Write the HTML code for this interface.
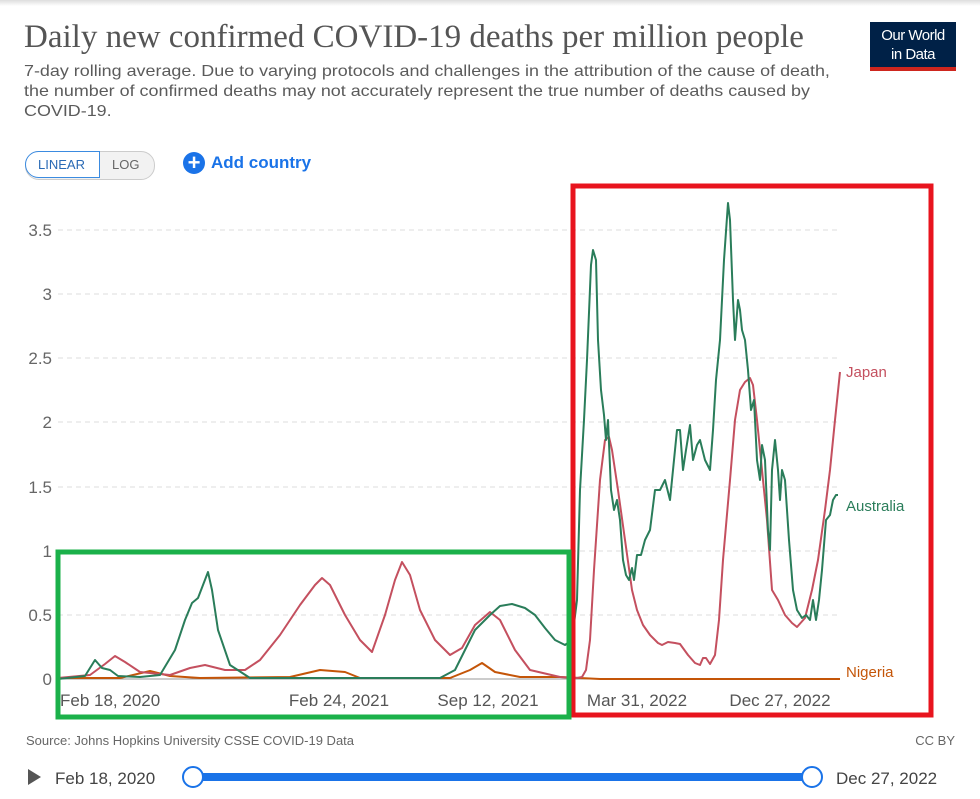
<!DOCTYPE html>
<html><head><meta charset="utf-8"><style>
body{margin:0;width:980px;height:799px;background:#fff;font-family:"Liberation Sans",sans-serif;overflow:hidden;position:relative}
.t{position:absolute;white-space:nowrap}
</style></head><body>
<div style="position:absolute;left:0;top:0;width:980px;height:6px;background:linear-gradient(#ddd,#fff)"></div>
<div class="t" style="left:24px;top:19px;font-family:'Liberation Serif',serif;font-size:33px;color:#555">Daily new confirmed COVID-19 deaths per million people</div>
<div class="t" style="left:24px;top:62px;font-size:16px;color:#5b5b5b;line-height:20px;transform:scaleX(1.12);transform-origin:0 0">7-day rolling average. Due to varying protocols and challenges in the attribution of the cause of death,<br>the number of confirmed deaths may not accurately represent the true number of deaths caused by<br>COVID-19.</div>
<div style="position:absolute;left:870px;top:22px;width:86px;height:49px;background:#002147;color:#fff;font-size:15px;text-align:center;line-height:19px;padding-top:4px;box-sizing:border-box;letter-spacing:-0.5px">Our World<br>in Data</div>
<div style="position:absolute;left:870px;top:67px;width:86px;height:4px;background:#ce261e"></div>
<div style="position:absolute;left:25px;top:151px;width:128px;height:27px;border:1px solid #ccc;border-radius:14px;background:#f2f2f2"></div>
<div style="position:absolute;left:25px;top:151px;width:73px;height:25px;border:1px solid #3b8be0;border-radius:14px 0 0 14px;background:#fff"></div>
<div class="t" style="left:38px;top:157px;font-size:13px;color:#2a6ab5">LINEAR</div>
<div class="t" style="left:112px;top:157px;font-size:13px;color:#666">LOG</div>
<div style="position:absolute;left:183px;top:152px;width:22px;height:22px;border-radius:50%;background:#1a73e8;color:#fff;font-size:22px;line-height:21px;text-align:center;font-weight:bold">+</div>
<div class="t" style="left:211px;top:153px;font-size:17px;color:#1a73e8;font-weight:bold">Add country</div>
<svg width="980" height="799" style="position:absolute;left:0;top:0" font-family="Liberation Sans, sans-serif">
<g stroke="#ddd" stroke-dasharray="5,4" stroke-width="1">
<line x1="58" x2="840" y1="615" y2="615"/><line x1="58" x2="840" y1="551" y2="551"/><line x1="58" x2="840" y1="487" y2="487"/><line x1="58" x2="840" y1="422" y2="422"/><line x1="58" x2="840" y1="358" y2="358"/><line x1="58" x2="840" y1="294" y2="294"/><line x1="58" x2="840" y1="230" y2="230"/>
</g>
<line x1="58" x2="840" y1="679" y2="679" stroke="#999"/>
<g fill="#666" font-size="17" text-anchor="end">
<text x="52" y="685">0</text><text x="52" y="621">0.5</text><text x="52" y="557">1</text><text x="52" y="493">1.5</text><text x="52" y="428">2</text><text x="52" y="364">2.5</text><text x="52" y="300">3</text><text x="52" y="236">3.5</text>
</g>
<g fill="#555" font-size="17">
<text x="60" y="706">Feb 18, 2020</text><text x="339" y="706" text-anchor="middle">Feb 24, 2021</text><text x="488" y="706" text-anchor="middle">Sep 12, 2021</text><text x="637" y="706" text-anchor="middle">Mar 31, 2022</text><text x="780" y="706" text-anchor="middle">Dec 27, 2022</text>
</g>
<g fill="none" stroke-width="2" stroke-linejoin="round">
<polyline stroke="#c45508" points="58,678 120,678 150,671 170,676 200,678 290,677 320,670 345,672 360,678 450,678 470,670 482,663 495,672 520,677 560,677 580,678 600,679 840,679"/>
<polyline stroke="#c4505f" points="58,678 90,675 105,664 115,656 125,662 140,672 170,675 190,668 205,665 225,670 245,670 260,660 280,635 300,605 315,585 322,578 330,585 345,615 360,640 372,652 385,615 395,580 402,562 410,575 420,610 435,640 450,655 462,648 475,625 490,612 500,620 515,650 530,670 560,677 577,678 582,677 586,670 590,640 594,570 600,480 605,440 609,437 612,450 618,490 625,540 632,590 637,610 643,625 650,635 658,643 662,645 668,642 675,643 680,644 688,655 695,663 700,665 703,658 706,658 710,664 715,655 719,620 723,560 730,480 735,420 740,390 745,382 750,378 753,385 757,420 762,470 767,520 772,590 778,600 785,615 792,623 797,627 805,618 812,590 818,560 825,510 830,470 835,420 840,372"/>
<polyline stroke="#2a7d5a" points="58,679 85,676 95,660 102,668 110,670 118,676 140,677 160,675 175,650 185,620 192,603 198,598 203,585 208,572 212,590 218,630 230,665 250,678 440,678 455,670 465,650 475,630 490,615 500,606 512,604 525,608 535,615 545,628 555,640 565,645 572,640 577,600 580,490 584,420 587,360 591,265 593,250 596,260 598,340 601,390 604,415 606,440 608,420 611,490 614,510 617,500 620,520 623,560 626,575 629,580 632,568 634,580 637,555 641,555 645,540 650,530 655,490 660,490 665,480 670,500 673,470 677,430 680,430 683,470 686,450 690,425 693,460 697,445 700,440 705,460 710,470 713,430 716,380 720,340 724,260 728,203 730,220 733,300 735,340 738,300 740,310 742,330 745,340 748,370 751,410 754,400 757,460 760,480 762,445 765,460 768,530 770,550 772,470 775,440 778,470 780,500 782,470 785,480 789,540 793,590 797,610 802,618 806,615 810,620 813,600 816,620 819,600 822,570 826,520 830,515 833,500 836,495 838,495"/>
</g>
<text x="846" y="377" fill="#c4505f" font-size="15">Japan</text>
<text x="846" y="511" fill="#2a7d5a" font-size="15">Australia</text>
<text x="846" y="677" fill="#c45508" font-size="15">Nigeria</text>
<rect x="573" y="186" width="358" height="529" fill="none" stroke="#e8141e" stroke-width="5"/>
<rect x="58" y="552" width="511" height="165" fill="none" stroke="#1bb14a" stroke-width="5"/>
<text x="26" y="745" fill="#666" font-size="13">Source: Johns Hopkins University CSSE COVID-19 Data</text>
<text x="955" y="745" fill="#666" font-size="13" text-anchor="end">CC BY</text>
<polygon points="28,769 28,785 41,777" fill="#555"/>
<text x="55" y="784" fill="#444" font-size="17">Feb 18, 2020</text>
<rect x="193" y="773" width="619" height="8" rx="4" fill="#1a73e8"/>
<circle cx="193" cy="777" r="10" fill="#fff" stroke="#1a73e8" stroke-width="2"/>
<circle cx="812" cy="777" r="10" fill="#fff" stroke="#1a73e8" stroke-width="2"/>
<text x="836" y="784" fill="#444" font-size="17">Dec 27, 2022</text>
</svg>
</body></html>
